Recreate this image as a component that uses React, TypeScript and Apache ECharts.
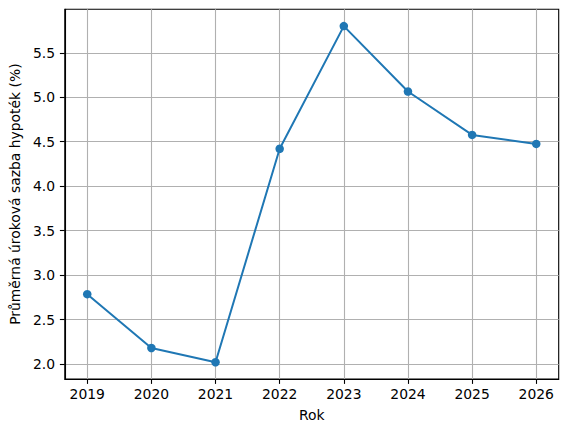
import React, { useEffect, useRef } from "react";
import * as echarts from "echarts";

const years = [2019, 2020, 2021, 2022, 2023, 2024, 2025, 2026];
const rates = [2.785, 2.18, 2.02, 4.42, 5.8, 5.064, 4.576, 4.475];
const yTicks = [2.0, 2.5, 3.0, 3.5, 4.0, 4.5, 5.0, 5.5];
const xTitle = "Rok";
const yTitle = "Průměrná úroková sazba hypoték (%)";

export default function App() {
  const ref = useRef<HTMLDivElement>(null);
  useEffect(() => {
    if (!ref.current) return;
    const chart = echarts.init(ref.current, undefined, { renderer: "svg" });
    const xMin = years[0] - 0.05 * (years[years.length - 1] - years[0]);
    const xMax = years[years.length - 1] + 0.05 * (years[years.length - 1] - years[0]);
    const lo = Math.min(...rates);
    const hi = Math.max(...rates);
    const yMin = lo - 0.05 * (hi - lo);
    const yMax = hi + 0.05 * (hi - lo);
    const font = "DejaVu Sans";
    chart.setOption({
      animation: false,
      backgroundColor: "#ffffff",
      grid: {
        left: 62,
        right: 9.3,
        top: 9.3,
        bottom: 53,
        show: true,
        borderColor: "#000000",
        borderWidth: 1.1,
        backgroundColor: "transparent",
      },
      xAxis: {
        type: "value",
        min: xMin,
        max: xMax,
        name: xTitle,
        nameLocation: "middle",
        nameGap: 29,
        nameTextStyle: { fontFamily: font, fontSize: 13.9, color: "#000" },
        axisLine: { show: true, onZero: false, lineStyle: { color: "#000", width: 1.1 } },
        axisTick: { show: true, length: 4.9, customValues: years, lineStyle: { color: "#000", width: 1.1 } },
        axisLabel: {
          customValues: years,
          margin: 8,
          fontFamily: font,
          fontSize: 13.9,
          color: "#000",
          formatter: (v: number) => String(v),
        },
        splitLine: { show: true, lineStyle: { color: "#b0b0b0", width: 1.1 } },
      },
      yAxis: {
        type: "value",
        min: yMin,
        max: yMax,
        name: yTitle,
        nameLocation: "middle",
        nameGap: 40,
        nameRotate: 90,
        nameTextStyle: { fontFamily: font, fontSize: 13.9, color: "#000" },
        axisLine: { show: true, onZero: false, lineStyle: { color: "#000", width: 1.1 } },
        axisTick: { show: true, length: 4.9, customValues: yTicks, lineStyle: { color: "#000", width: 1.1 } },
        axisLabel: {
          customValues: yTicks,
          margin: 9.8,
          fontFamily: font,
          fontSize: 13.9,
          color: "#000",
          formatter: (v: number) => v.toFixed(1),
        },
        splitLine: { show: true, lineStyle: { color: "#b0b0b0", width: 1.1 } },
      },
      series: [
        {
          type: "line",
          data: years.map((y, i) => [y, rates[i]]),
          symbol: "circle",
          symbolSize: 8.5,
          lineStyle: { color: "#1f77b4", width: 2 },
          itemStyle: { color: "#1f77b4" },
        },
      ],
    });
    return () => chart.dispose();
  }, []);
  return (
    <div
      ref={ref}
      style={{ position: "absolute", left: 0, top: 0, width: 568, height: 432 }}
    />
  );
}
